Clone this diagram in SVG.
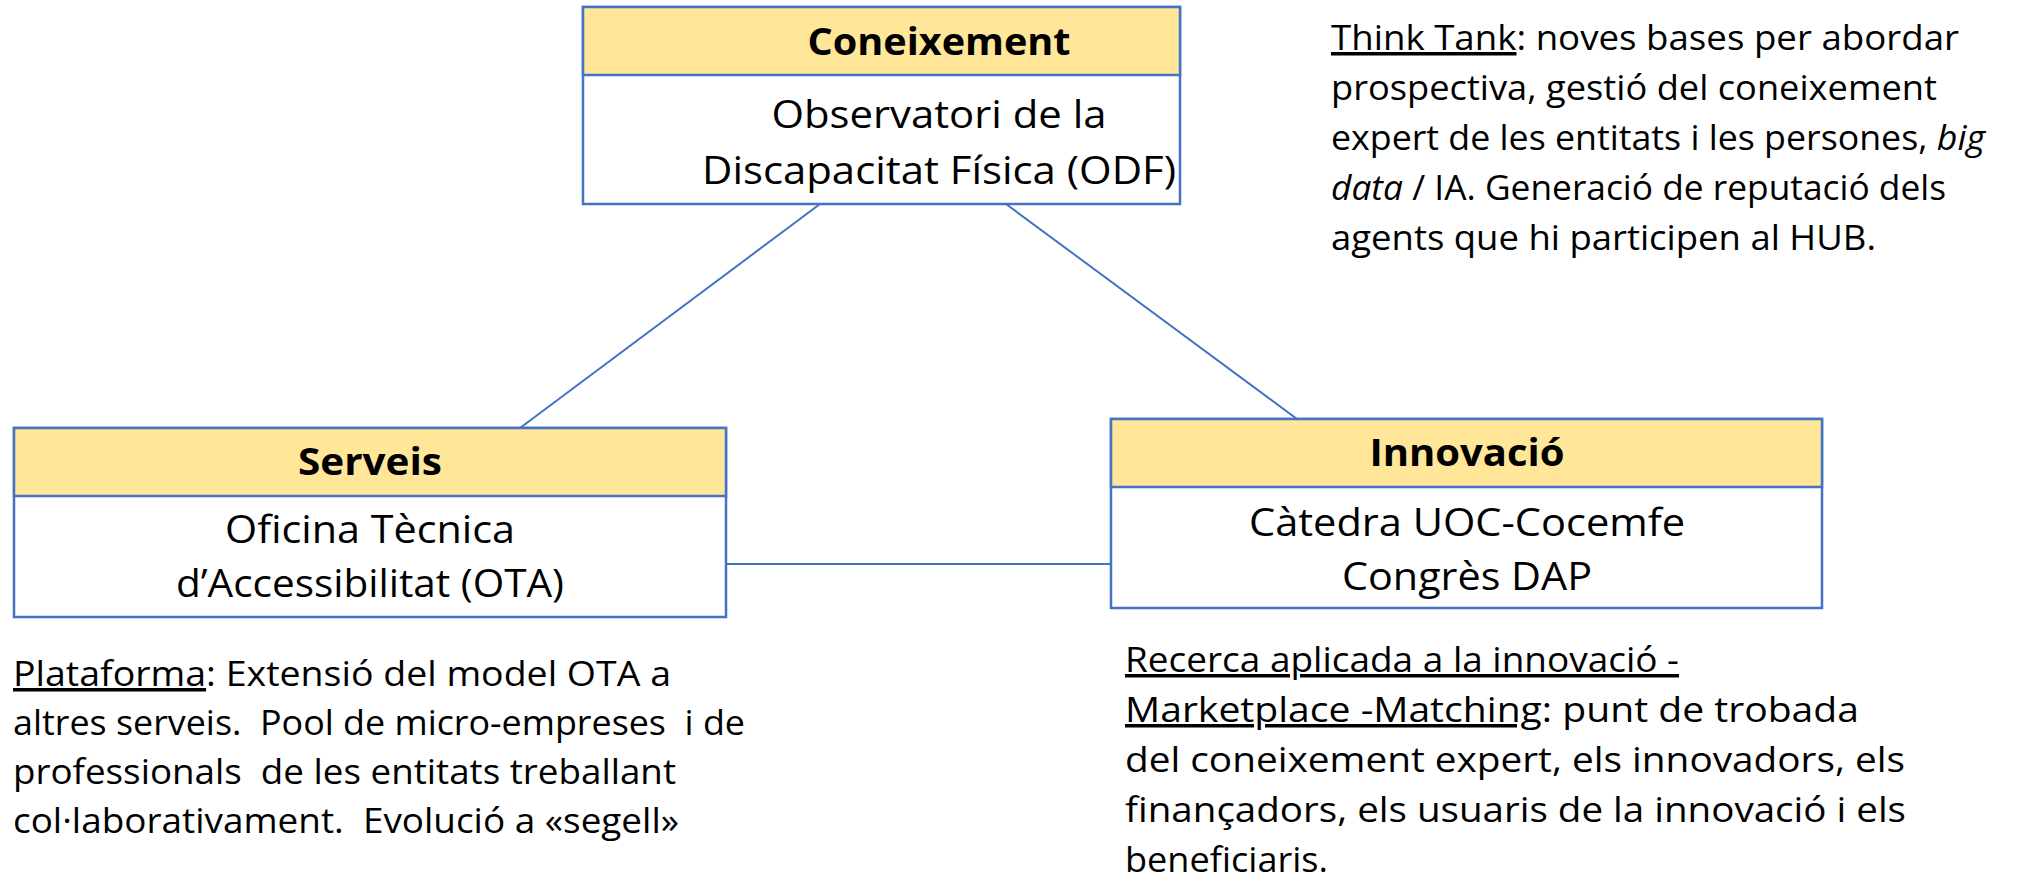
<svg xmlns="http://www.w3.org/2000/svg" width="2028" height="881" viewBox="0 0 2028 881">
<style>
.box{fill:#FFFFFF;stroke:#4472C4;stroke-width:2.5}
.hdr{fill:#FFE699;stroke:#4472C4;stroke-width:2.5}
.ttl{font-family:"Open Sans","Liberation Sans",sans-serif;font-weight:bold;font-size:38px;fill:#000;text-anchor:middle}
.bt{font-family:"Open Sans","Liberation Sans",sans-serif;font-size:38px;fill:#000;text-anchor:middle}
.ann{font-family:"Open Sans","Liberation Sans",sans-serif;font-size:35px;fill:#000}
.u{text-decoration:underline}
.i{font-style:italic}
.con{stroke:#4472C4;stroke-width:2;fill:none}
</style>
<rect width="2028" height="881" fill="#FFFFFF"/>
<g id="connectors">
<line class="con" x1="820" y1="204" x2="520" y2="428"/>
<line class="con" x1="1006" y1="204" x2="1297" y2="419"/>
<line class="con" x1="726" y1="564" x2="1111" y2="564"/>
</g>
<g id="coneixement">
<rect class="box" x="583" y="7" width="597" height="197"/>
<rect class="hdr" x="583" y="7" width="597" height="68"/>
<text class="ttl" x="939" y="55" textLength="263" lengthAdjust="spacingAndGlyphs">Coneixement</text>
<text class="bt" x="939" y="128" textLength="335" lengthAdjust="spacingAndGlyphs">Observatori de la</text>
<text class="bt" x="939" y="184" textLength="474" lengthAdjust="spacingAndGlyphs">Discapacitat Física (ODF)</text>
</g>
<g id="serveis">
<rect class="box" x="14" y="428" width="712" height="189"/>
<rect class="hdr" x="14" y="428" width="712" height="68"/>
<text class="ttl" x="370" y="475" textLength="144" lengthAdjust="spacingAndGlyphs">Serveis</text>
<text class="bt" x="370" y="543" textLength="290" lengthAdjust="spacingAndGlyphs">Oficina Tècnica</text>
<text class="bt" x="370" y="597" textLength="388" lengthAdjust="spacingAndGlyphs">d’Accessibilitat (OTA)</text>
</g>
<g id="innovacio">
<rect class="box" x="1111" y="419" width="711" height="189"/>
<rect class="hdr" x="1111" y="419" width="711" height="68"/>
<text class="ttl" x="1467" y="466" textLength="195" lengthAdjust="spacingAndGlyphs">Innovació</text>
<text class="bt" x="1467" y="536" textLength="436" lengthAdjust="spacingAndGlyphs">Càtedra UOC-Cocemfe</text>
<text class="bt" x="1467" y="590" textLength="250" lengthAdjust="spacingAndGlyphs">Congrès DAP</text>
</g>
<g id="think-tank">
<text class="ann" x="1331" y="50" textLength="628" lengthAdjust="spacingAndGlyphs"><tspan class="u">Think Tank</tspan>: noves bases per abordar</text>
<text class="ann" x="1331" y="100" textLength="606" lengthAdjust="spacingAndGlyphs">prospectiva, gestió del coneixement</text>
<text class="ann" x="1331" y="150" textLength="654" lengthAdjust="spacingAndGlyphs">expert de les entitats i les persones, <tspan class="i">big</tspan></text>
<text class="ann" x="1331" y="200" textLength="615" lengthAdjust="spacingAndGlyphs"><tspan class="i">data</tspan> / IA. Generació de reputació dels</text>
<text class="ann" x="1331" y="250" textLength="545" lengthAdjust="spacingAndGlyphs">agents que hi participen al HUB.</text>
</g>
<g id="plataforma">
<text class="ann" x="13" y="686" textLength="658" lengthAdjust="spacingAndGlyphs"><tspan class="u">Plataforma</tspan>: Extensió del model OTA a</text>
<text class="ann" x="13" y="735" textLength="732" lengthAdjust="spacingAndGlyphs" xml:space="preserve">altres serveis.  Pool de micro-empreses  i de</text>
<text class="ann" x="13" y="784" textLength="663" lengthAdjust="spacingAndGlyphs" xml:space="preserve">professionals  de les entitats treballant</text>
<text class="ann" x="13" y="833" textLength="666" lengthAdjust="spacingAndGlyphs" xml:space="preserve">col·laborativament.  Evolució a «segell»</text>
</g>
<g id="recerca">
<text class="ann" x="1125" y="672" textLength="554" lengthAdjust="spacingAndGlyphs"><tspan class="u">Recerca aplicada a la innovació -</tspan></text>
<text class="ann" x="1125" y="722" textLength="734" lengthAdjust="spacingAndGlyphs"><tspan class="u">Marketplace -Matching</tspan>: punt de trobada</text>
<text class="ann" x="1125" y="772" textLength="780" lengthAdjust="spacingAndGlyphs">del coneixement expert, els innovadors, els</text>
<text class="ann" x="1125" y="822" textLength="781" lengthAdjust="spacingAndGlyphs">finançadors, els usuaris de la innovació i els</text>
<text class="ann" x="1125" y="872" textLength="203" lengthAdjust="spacingAndGlyphs">beneficiaris.</text>
</g>
</svg>
